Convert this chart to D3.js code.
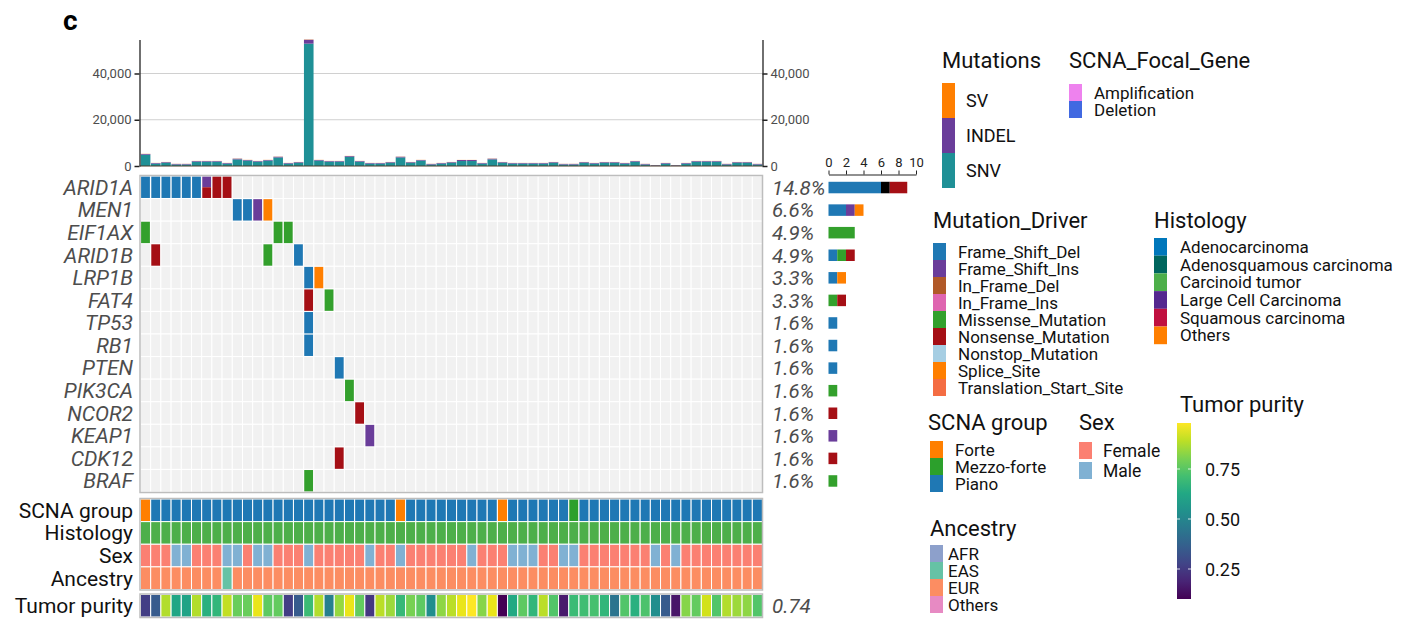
<!DOCTYPE html>
<html>
<head>
<meta charset="utf-8">
<script src="https://cdn.jsdelivr.net/npm/d3@7"></script>
<style>
  body { margin: 0; background: #fff; }
  text { font-family: Roboto, "Noto Sans", sans-serif; }
</style>
</head>
<body>
<div id="chart"></div>
<script>
// ---- data ----
var genes = ['ARID1A', 'MEN1', 'EIF1AX', 'ARID1B', 'LRP1B', 'FAT4', 'TP53', 'RB1',
  'PTEN', 'PIK3CA', 'NCOR2', 'KEAP1', 'CDK12', 'BRAF'];

var samples = ['S01','S02','S03','S04','S05','S06','S07','S08','S09','S10',
  'S11','S12','S13','S14','S15','S16','S17','S18','S19','S20',
  'S21','S22','S23','S24','S25','S26','S27','S28','S29','S30',
  'S31','S32','S33','S34','S35','S36','S37','S38','S39','S40',
  'S41','S42','S43','S44','S45','S46','S47','S48','S49','S50',
  'S51','S52','S53','S54','S55','S56','S57','S58','S59','S60','S61'];

// [gene, sample number, classification]
var mutations = [
  ['ARID1A', 1, 'Frame_Shift_Del'], ['ARID1A', 2, 'Frame_Shift_Del'], ['ARID1A', 3, 'Frame_Shift_Del'],
  ['ARID1A', 4, 'Frame_Shift_Del'], ['ARID1A', 5, 'Frame_Shift_Del'], ['ARID1A', 6, 'Frame_Shift_Del'],
  ['ARID1A', 7, 'Frame_Shift_Ins'], ['ARID1A', 7, 'Nonsense_Mutation'],
  ['ARID1A', 8, 'Nonsense_Mutation'], ['ARID1A', 9, 'Nonsense_Mutation'],
  ['MEN1', 10, 'Frame_Shift_Del'], ['MEN1', 11, 'Frame_Shift_Del'], ['MEN1', 12, 'Frame_Shift_Ins'],
  ['MEN1', 13, 'Splice_Site'],
  ['EIF1AX', 1, 'Missense_Mutation'], ['EIF1AX', 14, 'Missense_Mutation'], ['EIF1AX', 15, 'Missense_Mutation'],
  ['ARID1B', 2, 'Nonsense_Mutation'], ['ARID1B', 13, 'Missense_Mutation'], ['ARID1B', 16, 'Frame_Shift_Del'],
  ['LRP1B', 17, 'Frame_Shift_Del'], ['LRP1B', 18, 'Splice_Site'],
  ['FAT4', 17, 'Nonsense_Mutation'], ['FAT4', 19, 'Missense_Mutation'],
  ['TP53', 17, 'Frame_Shift_Del'],
  ['RB1', 17, 'Frame_Shift_Del'],
  ['PTEN', 20, 'Frame_Shift_Del'],
  ['PIK3CA', 21, 'Missense_Mutation'],
  ['NCOR2', 22, 'Nonsense_Mutation'],
  ['KEAP1', 23, 'Frame_Shift_Ins'],
  ['CDK12', 20, 'Nonsense_Mutation'],
  ['BRAF', 17, 'Missense_Mutation']
];

// mutation burden per sample (top bars)
var snv = [4900, 1050, 1450, 650, 650, 1900, 1900, 1900, 1050, 2850,
  2350, 1900, 2350, 3700, 1050, 1450, 52900, 2350, 1900, 1900,
  4000, 1900, 1050, 1050, 1450, 3700, 1450, 2350, 650, 1050,
  1450, 2150, 2150, 1050, 2850, 1450, 1050, 1050, 1050, 1050,
  1450, 650, 650, 1450, 1050, 1450, 1450, 1050, 1900, 650,
  200, 1050, 200, 1050, 1900, 1900, 1900, 650, 1450, 1450, 650];
var indel = [300, 250, 250, 250, 250, 250, 250, 250, 250, 300,
  250, 250, 250, 300, 250, 250, 1700, 250, 250, 250,
  300, 250, 250, 250, 250, 300, 250, 250, 250, 250,
  250, 430, 430, 250, 300, 250, 250, 250, 250, 250,
  250, 250, 250, 250, 250, 250, 250, 250, 250, 250,
  200, 250, 200, 250, 250, 250, 250, 250, 250, 250, 250];
var sv = [60, 40, 50, 40, 40, 50, 50, 50, 40, 60,
  50, 50, 50, 60, 40, 50, 100, 50, 50, 50,
  60, 50, 40, 40, 50, 60, 50, 50, 40, 40,
  50, 50, 50, 40, 60, 50, 40, 40, 40, 40,
  50, 40, 40, 50, 40, 50, 50, 40, 50, 40,
  30, 40, 30, 40, 50, 50, 50, 40, 50, 50, 40];

// clinical annotation tracks
var scnaGroup = ['Forte','Piano','Piano','Piano','Piano','Piano','Piano','Piano','Piano','Piano',
  'Piano','Piano','Piano','Piano','Piano','Piano','Piano','Piano','Piano','Piano',
  'Piano','Piano','Piano','Piano','Piano','Forte','Piano','Piano','Piano','Piano',
  'Piano','Piano','Piano','Piano','Piano','Forte','Piano','Piano','Piano','Piano',
  'Piano','Piano','Mezzo-forte','Piano','Piano','Piano','Piano','Piano','Piano','Piano',
  'Piano','Piano','Piano','Piano','Piano','Piano','Piano','Piano','Piano','Piano','Piano'];
var histology = samples.map(function() { return 'Carcinoid tumor'; });
var sex = ['Female','Female','Female','Male','Male','Female','Female','Female','Male','Male',
  'Female','Male','Male','Female','Female','Female','Male','Female','Female','Female',
  'Female','Female','Male','Female','Female','Male','Female','Female','Female','Female',
  'Female','Female','Male','Female','Female','Female','Male','Male','Male','Female',
  'Female','Male','Male','Female','Female','Female','Female','Female','Female','Female',
  'Male','Female','Male','Female','Female','Female','Female','Female','Female','Female','Female'];
var ancestry = ['EUR','EUR','EUR','EUR','EUR','EUR','EUR','EUR','EAS','EUR',
  'EUR','EUR','EUR','EUR','EUR','EUR','EUR','EUR','EUR','EUR',
  'EUR','EUR','EUR','EUR','EUR','EUR','EUR','EUR','EUR','EUR',
  'EUR','EUR','EUR','EUR','EUR','EUR','EUR','EUR','EUR','EUR',
  'EUR','EUR','EUR','EUR','EUR','EUR','EUR','EUR','EUR','EUR',
  'EUR','EUR','EUR','EUR','EUR','EUR','EUR','EUR','EUR','EUR','EUR'];
var purity = [0.26, 0.35, 0.88, 0.62, 0.61, 0.88, 0.66, 0.68, 0.90, 0.78,
  0.78, 0.95, 0.76, 0.77, 0.26, 0.35, 0.70, 0.88, 0.48, 0.84,
  0.95, 0.77, 0.24, 0.89, 0.85, 0.69, 0.80, 0.76, 0.53, 0.83,
  0.89, 0.95, 0.98, 0.82, 0.95, 0.10, 0.63, 0.76, 0.68, 0.89,
  0.74, 0.16, 0.70, 0.71, 0.72, 0.68, 0.44, 0.74, 0.66, 0.73,
  0.53, 0.35, 0.15, 0.82, 0.77, 0.92, 0.74, 0.88, 0.85, 0.83, 0.74];

// legend categories
var burdenTypes = ['SV', 'INDEL', 'SNV'];
var focalTypes = ['Amplification', 'Deletion'];
var driverTypes = ['Frame_Shift_Del', 'Frame_Shift_Ins', 'In_Frame_Del', 'In_Frame_Ins',
  'Missense_Mutation', 'Nonsense_Mutation', 'Nonstop_Mutation', 'Splice_Site', 'Translation_Start_Site'];
var histologyTypes = ['Adenocarcinoma', 'Adenosquamous carcinoma', 'Carcinoid tumor',
  'Large Cell Carcinoma', 'Squamous carcinoma', 'Others'];
var scnaTypes = ['Forte', 'Mezzo-forte', 'Piano'];
var sexTypes = ['Female', 'Male'];
var ancestryTypes = ['AFR', 'EAS', 'EUR', 'Others'];
var purityTicks = [0.25, 0.5, 0.75];
var countTicks = [0, 2, 4, 6, 8, 10];

// ---- colours ----
var burdenColor = d3.scaleOrdinal().domain(burdenTypes).range(['#FF7F00', '#6A3D9A', '#1F9096']);
var focalColor = d3.scaleOrdinal().domain(focalTypes).range(['#EE82EE', '#4169E1']);
var driverColor = d3.scaleOrdinal().domain(driverTypes.concat(['Multi_Hit']))
  .range(['#1F78B4', '#6A3D9A', '#B15928', '#DF65B0', '#33A02C', '#A50F15', '#A6CEE3', '#FF7F00', '#F46D43', '#000000']);
var histColor = d3.scaleOrdinal().domain(histologyTypes)
  .range(['#0077BB', '#00665E', '#4DAF4A', '#54278F', '#C0103F', '#FF7F00']);
var scnaColor = d3.scaleOrdinal().domain(scnaTypes).range(['#FF7F00', '#2CA02C', '#1F78B4']);
var sexColor = d3.scaleOrdinal().domain(sexTypes).range(['#FB8072', '#80B1D3']);
var ancColor = d3.scaleOrdinal().domain(ancestryTypes).range(['#8DA0CB', '#66C2A5', '#FC8D62', '#E78AC3']);
var purColor = d3.scaleSequential(d3.interpolateViridis).domain(d3.extent(purity));

// ---- svg ----
var W = 1421, H = 624;
var svg = d3.select('#chart').append('svg').attr('width', W).attr('height', H);

var x = d3.scaleBand().domain(samples).range([140.5, 762.5]);
var yGene = d3.scaleBand().domain(genes).range([176, 492]);
var bw = x.bandwidth(), bh = yGene.bandwidth();

svg.append('text').attr('x', 63).attr('y', 30)
  .style('font-size', '28px').style('font-weight', 'bold').text('c');

// ---- top: mutation burden ----
var burden = samples.map(function(s, i) {
  return { sample: s, SNV: snv[i], INDEL: indel[i], SV: sv[i] };
});
var stack = d3.stack().keys(['SNV', 'INDEL', 'SV'])(burden);
var yTop = d3.scaleLinear()
  .domain([0, d3.max(burden, function(d) { return d.SNV + d.INDEL + d.SV; })])
  .range([166, 39.5]);

var topG = svg.append('g');
topG.selectAll('.grid').data([20000, 40000]).enter().append('line')
  .attr('x1', 140).attr('x2', 762)
  .attr('y1', function(d) { return yTop(d); }).attr('y2', function(d) { return yTop(d); })
  .attr('stroke', '#d0d0d0').attr('stroke-width', 1);

topG.selectAll('.layer').data(stack).enter().append('g')
  .attr('fill', function(d) { return burdenColor(d.key); })
  .selectAll('rect').data(function(d) { return d; }).enter().append('rect')
  .attr('x', function(d) { return x(d.data.sample) + 0.3; })
  .attr('width', bw - 0.6)
  .attr('y', function(d) { return yTop(d[1]); })
  .attr('height', function(d) { return yTop(d[0]) - yTop(d[1]); });

topG.append('line').attr('x1', 140).attr('x2', 762).attr('y1', 166).attr('y2', 166)
  .attr('stroke', '#4a3b2a').attr('stroke-width', 1);

var leftAxis = topG.append('g').attr('transform', 'translate(139.5,0)')
  .call(d3.axisLeft(yTop).tickValues([0, 20000, 40000]).tickFormat(d3.format(',')).tickSize(5).tickSizeOuter(0));
var rightAxis = topG.append('g').attr('transform', 'translate(762.5,0)')
  .call(d3.axisRight(yTop).tickValues([0, 20000, 40000]).tickFormat(d3.format(',')).tickSize(5).tickSizeOuter(0));
[leftAxis, rightAxis].forEach(function(a) {
  a.select('.domain').attr('stroke', '#222').attr('stroke-width', 1.3);
  a.selectAll('.tick line').attr('stroke', '#222').attr('stroke-width', 1.5);
  a.selectAll('.tick text').style('font-size', '13px').attr('fill', '#4d4d4d')
    .style('font-family', 'Roboto, sans-serif');
});

// ---- oncoprint grid ----
var grid = svg.append('g');
genes.forEach(function(g) {
  grid.selectAll(null).data(samples).enter().append('rect')
    .attr('x', function(s) { return x(s); })
    .attr('y', yGene(g))
    .attr('width', bw).attr('height', bh)
    .attr('fill', '#f1f1f1').attr('stroke', '#fff').attr('stroke-width', 1);
});

// group mutations into cells
var cells = d3.groups(mutations, function(m) { return m[0] + '|' + m[1]; }).map(function(g) {
  return { gene: g[1][0][0], sample: samples[g[1][0][1] - 1], types: g[1].map(function(m) { return m[2]; }) };
});
cells.forEach(function(c) {
  var n = c.types.length;
  c.types.forEach(function(t, k) {
    grid.append('rect')
      .attr('x', x(c.sample) + 0.6)
      .attr('width', bw - 1.4)
      .attr('y', yGene(c.gene) + 0.6 + k * (bh - 1.2) / n)
      .attr('height', (bh - 1.2) / n)
      .attr('fill', driverColor(t));
  });
});

grid.append('rect').attr('x', 140).attr('y', 175.5).attr('width', 622.5).attr('height', 317)
  .attr('fill', 'none').attr('stroke', '#bdbdbd').attr('stroke-width', 1.5);

// gene labels and percentages
var geneCount = genes.map(function(g) {
  return new Set(mutations.filter(function(m) { return m[0] === g; }).map(function(m) { return m[1]; })).size;
});
svg.selectAll('.gene').data(genes).enter().append('text')
  .attr('x', 133).attr('y', function(g) { return yGene(g) + bh / 2 + 7.5; })
  .attr('text-anchor', 'end').style('font-style', 'italic').style('font-size', '21px')
  .attr('fill', '#4d4d4d').text(function(g) { return g; });
svg.selectAll('.pct').data(genes).enter().append('text')
  .attr('x', 772).attr('y', function(g) { return yGene(g) + bh / 2 + 7.5; })
  .style('font-style', 'italic').style('font-size', '20.5px').attr('fill', '#4d4d4d')
  .text(function(g, i) { return d3.format('.1%')(geneCount[i] / samples.length); });

// ---- right: per gene counts ----
var xCount = d3.scaleLinear().domain([0, 10]).range([828.5, 916]);
var stackOrder = ['Frame_Shift_Del', 'Frame_Shift_Ins', 'Multi_Hit', 'Missense_Mutation', 'Nonsense_Mutation', 'Splice_Site'];
genes.forEach(function(g) {
  var counts = {};
  cells.filter(function(c) { return c.gene === g; }).forEach(function(c) {
    var t = c.types.length > 1 ? 'Multi_Hit' : c.types[0];
    counts[t] = (counts[t] || 0) + 1;
  });
  var acc = 0;
  stackOrder.forEach(function(t) {
    if (!counts[t]) return;
    svg.append('rect')
      .attr('x', xCount(acc)).attr('width', xCount(acc + counts[t]) - xCount(acc))
      .attr('y', yGene(g) + bh / 2 - 5.5).attr('height', 11.5)
      .attr('fill', driverColor(t));
    acc += counts[t];
  });
});
var countAxis = svg.append('g').attr('transform', 'translate(0,174.5)')
  .call(d3.axisTop(xCount).tickValues(countTicks).tickSize(4).tickSizeOuter(0));
countAxis.select('.domain').attr('stroke', '#222').attr('stroke-width', 1.2);
countAxis.selectAll('.tick line').attr('stroke', '#222');
countAxis.selectAll('.tick text').style('font-size', '13px').attr('fill', '#222')
  .style('font-family', 'Roboto, sans-serif').attr('dy', '-1px');

// ---- annotation tracks ----
var tracks = ['SCNA group', 'Histology', 'Sex', 'Ancestry'];
var trackData = [scnaGroup, histology, sex, ancestry];
var trackColor = [scnaColor, histColor, sexColor, ancColor];
var yAnno = d3.scaleBand().domain(tracks).range([499, 589.5]);
var anno = svg.append('g');
tracks.forEach(function(t, ti) {
  anno.selectAll(null).data(samples).enter().append('rect')
    .attr('x', function(s) { return x(s); }).attr('y', yAnno(t))
    .attr('width', bw).attr('height', yAnno.bandwidth())
    .attr('fill', function(s, i) { return trackColor[ti](trackData[ti][i]); })
    .attr('stroke', '#fff').attr('stroke-width', 1);
});
anno.append('rect').attr('x', 140).attr('y', 498.5).attr('width', 622.5).attr('height', 91.5)
  .attr('fill', 'none').attr('stroke', '#bdbdbd').attr('stroke-width', 1.5);

var purY = 594.5, purH = 22.5;
anno.selectAll('.pur').data(samples).enter().append('rect')
  .attr('x', function(s) { return x(s); }).attr('y', purY)
  .attr('width', bw).attr('height', purH)
  .attr('fill', function(s, i) { return purColor(purity[i]); })
  .attr('stroke', '#fff').attr('stroke-width', 1);
anno.append('rect').attr('x', 140).attr('y', purY - 0.5).attr('width', 622.5).attr('height', purH + 1)
  .attr('fill', 'none').attr('stroke', '#bdbdbd').attr('stroke-width', 1.5);

svg.selectAll('.tlab').data(tracks.concat(['Tumor purity'])).enter().append('text')
  .attr('x', 133)
  .attr('y', function(t, i) { return (i < 4 ? yAnno(t) + yAnno.bandwidth() / 2 : purY + purH / 2) + 7.5; })
  .attr('text-anchor', 'end').style('font-size', '21px').attr('fill', '#111')
  .text(function(t) { return t; });
svg.append('text').attr('x', 772).attr('y', purY + purH / 2 + 7.5)
  .style('font-style', 'italic').style('font-size', '20.5px').attr('fill', '#4d4d4d')
  .text(d3.format('.2f')(d3.median(purity)));

// ---- legends ----
function legend(title, tx, ty, items, color, sx, sy, step, lx, fs) {
  var g = svg.append('g');
  g.append('text').attr('x', tx).attr('y', ty).style('font-size', '22px').attr('fill', '#111').text(title);
  g.selectAll('rect').data(items).enter().append('rect')
    .attr('x', sx).attr('y', function(d, i) { return sy + i * step; })
    .attr('width', 13).attr('height', step)
    .attr('fill', function(d) { return color(d); });
  g.selectAll('.lab').data(items).enter().append('text')
    .attr('x', lx).attr('y', function(d, i) { return sy + i * step + step / 2 + (fs || 17) * 0.36; })
    .style('font-size', (fs || 17) + 'px').attr('fill', '#111')
    .text(function(d) { return d; });
}
legend('Mutations', 942, 68, burdenTypes, burdenColor, 942, 83, 35, 966, 18);
legend('SCNA_Focal_Gene', 1069, 68, focalTypes, focalColor, 1069, 84, 17, 1094);
legend('Mutation_Driver', 933, 228, driverTypes, driverColor, 933, 243, 17, 958);
legend('Histology', 1154, 228, histologyTypes, histColor, 1154, 238, 17.7, 1180);
legend('SCNA group', 928, 430, scnaTypes, scnaColor, 930, 441, 17, 955);
legend('Ancestry', 930, 536, ancestryTypes, ancColor, 930, 545, 17, 948);

// sex legend has spaced keys
var sexG = svg.append('g');
sexG.append('text').attr('x', 1079).attr('y', 430).style('font-size', '22px').attr('fill', '#111').text('Sex');
sexG.selectAll('rect').data(sexTypes).enter().append('rect')
  .attr('x', 1079).attr('y', function(d, i) { return 442 + i * 20; })
  .attr('width', 13).attr('height', 17).attr('fill', function(d) { return sexColor(d); });
sexG.selectAll('.lab').data(sexTypes).enter().append('text')
  .attr('x', 1103).attr('y', function(d, i) { return 442 + i * 20 + 8.5 + 6.3; })
  .style('font-size', '17.5px').attr('fill', '#111').text(function(d) { return d; });

// tumor purity colour bar
var cbTop = 423, cbBot = 599;
var yCb = d3.scaleLinear().domain(purColor.domain()).range([cbBot, cbTop]);
var defs = svg.append('defs');
var grad = defs.append('linearGradient').attr('id', 'vir').attr('x1', 0).attr('x2', 0).attr('y1', 1).attr('y2', 0);
d3.range(0, 1.01, 0.1).forEach(function(t) {
  grad.append('stop').attr('offset', t).attr('stop-color', d3.interpolateViridis(t));
});
svg.append('text').attr('x', 1180).attr('y', 412).style('font-size', '22px').attr('fill', '#111').text('Tumor purity');
svg.append('rect').attr('x', 1177).attr('y', cbTop).attr('width', 14).attr('height', cbBot - cbTop)
  .attr('fill', 'url(#vir)');
purityTicks.forEach(function(v) {
  svg.append('line').attr('x1', 1177).attr('x2', 1180).attr('y1', yCb(v)).attr('y2', yCb(v))
    .attr('stroke', '#fff').attr('stroke-opacity', 0.8);
  svg.append('line').attr('x1', 1188).attr('x2', 1191).attr('y1', yCb(v)).attr('y2', yCb(v))
    .attr('stroke', '#fff').attr('stroke-opacity', 0.8);
  svg.append('text').attr('x', 1205).attr('y', yCb(v) + 6.5)
    .style('font-size', '18px').attr('fill', '#111').text(d3.format('.2f')(v));
});
</script>
</body>
</html>
